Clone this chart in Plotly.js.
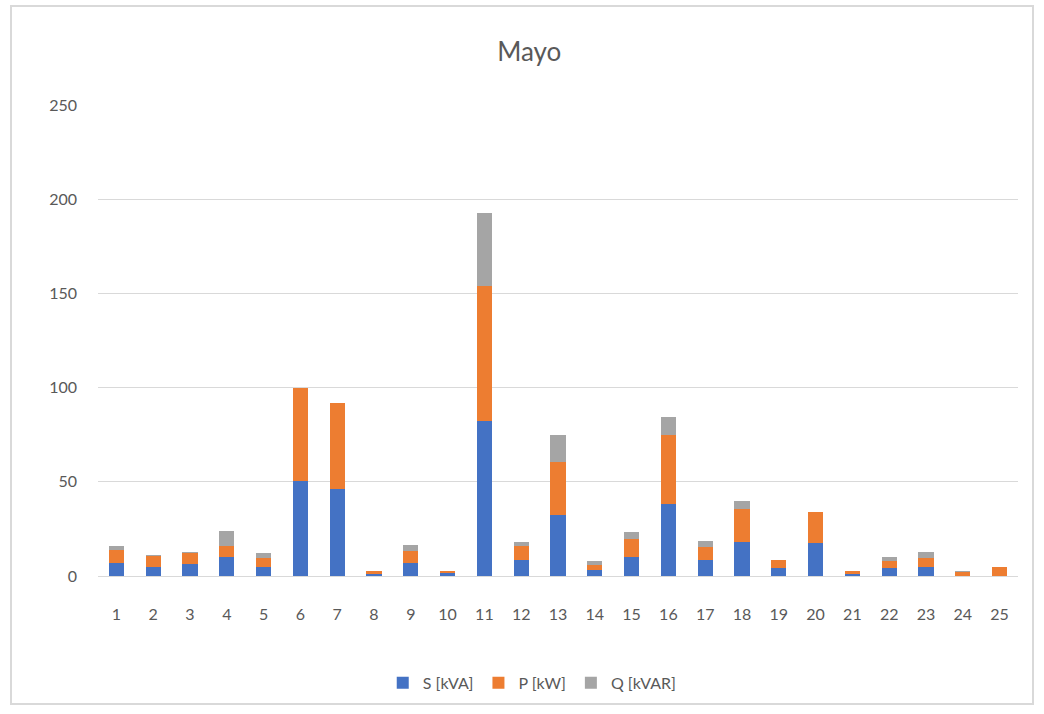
<!DOCTYPE html>
<html>
<head>
<meta charset="utf-8">
<script src="https://cdn.plot.ly/plotly-3.0.1.min.js"></script>
<style>
  html, body { margin: 0; padding: 0; background: #fff; }
  #frame { position: absolute; left: 10px; top: 5px; width: 1024px; height: 700px; border: 2px solid #d9d9d9; box-sizing: border-box; pointer-events: none; z-index: 5; }
  #chart { position: absolute; left: 0; top: 0; width: 1044px; height: 714px; }
</style>
</head>
<body>
<div id="chart"></div>
<div id="frame"></div>
<script>
const categories = ["1","2","3","4","5","6","7","8","9","10","11","12","13","14","15","16","17","18","19","20","21","22","23","24","25"];
const sKVA = [7.1, 5.0, 6.2, 10.3, 5.0, 50.3, 46.3, 1.3, 7.1, 1.4, 82.4, 8.4, 32.2, 3.1, 10.3, 38.4, 8.4, 17.9, 4.3, 17.4, 1.0, 4.3, 5.0, 0, 0];
const pKW = [6.5, 5.6, 6.2, 5.6, 4.8, 49.7, 45.5, 1.4, 6.2, 1.3, 71.5, 7.5, 28.4, 2.8, 9.2, 36.6, 6.9, 17.8, 4.1, 16.7, 1.7, 3.5, 4.3, 2.2, 5.0];
const qKVAR = [2.3, 0.5, 0.3, 8.0, 2.3, 0, 0, 0.2, 3.1, 0, 38.6, 2.1, 14.1, 2.1, 4.0, 9.2, 3.3, 4.0, 0.3, 0, 0.2, 2.3, 3.3, 0.3, 0];
const seriesNames = ["S [kVA]", "P [kW]", "Q [kVAR]"];
const yTicks = [0, 50, 100, 150, 200, 250];

const colors = ["#4472C4", "#ED7D31", "#A5A5A5"];
const vals = [sKVA, pKW, qKVAR];
const traces = vals.map((v, i) => ({
  type: "bar",
  x: categories,
  y: v,
  name: seriesNames[i],
  marker: { color: colors[i] },
  hoverinfo: "x+y+name"
}));

const font = "Lato, 'Open Sans', sans-serif";
const layout = {
  width: 1044,
  height: 714,
  margin: { l: 98, r: 26, t: 105, b: 138 },
  paper_bgcolor: "#ffffff",
  plot_bgcolor: "#ffffff",
  barmode: "stack",
  bargap: 0.59,
  title: { text: "Mayo", font: { family: font, size: 26, color: "#595959" }, x: 0.507, xanchor: "center", y: 0.927, yanchor: "middle", xref: "container" },
  xaxis: {
    type: "category",
    tickfont: { family: font, size: 16, color: "#595959" },
    showgrid: false,
    showline: true,
    linecolor: "#d9d9d9",
    linewidth: 1,
    ticks: "",
    ticklabelstandoff: 24,
    fixedrange: true
  },
  yaxis: {
    range: [0, 250],
    tickvals: yTicks,
    ticktext: yTicks.map(String),
    tickfont: { family: font, size: 16, color: "#595959" },
    showgrid: true,
    gridcolor: "#d9d9d9",
    gridwidth: 1,
    zeroline: false,
    showline: false,
    ticks: "",
    ticklabelstandoff: 20,
    fixedrange: true
  },
  legend: {
    orientation: "h",
    x: 0.472, xanchor: "center",
    y: -0.227, yanchor: "middle",
    font: { family: font, size: 16, color: "#595959" },
    traceorder: "normal",
    itemwidth: 30
  },
  showlegend: true
};

Plotly.newPlot("chart", traces, layout, { displayModeBar: false, staticPlot: true });
</script>
</body>
</html>
